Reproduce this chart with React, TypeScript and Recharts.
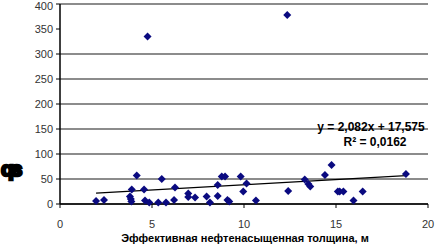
import React from "react";
import { ScatterChart, Scatter, XAxis, YAxis, CartesianGrid, ReferenceLine } from "recharts";

const thicknessM = [
  1.96, 2.39, 3.8, 3.85, 3.88, 3.9, 4.17, 4.57, 4.62, 4.85, 4.76, 5.34, 5.53, 5.76,
  6.2, 6.25, 6.97, 6.97, 7.34, 7.97, 8.15, 8.57, 8.57, 8.79, 8.97, 9.1, 9.2, 9.82,
  9.96, 10.14, 10.65, 12.35, 12.4, 13.3, 13.5, 13.6, 14.4, 14.76, 15.1, 15.2, 15.4,
  15.95, 16.45, 18.8,
];
const valuesY = [
  6, 8, 15, 10, 5, 29, 57, 29, 7, 3, 335, 3, 50, 3,
  8, 33, 21, 14, 13, 15, 3, 38, 16, 55, 55, 8, 5, 55,
  25, 41, 7, 378, 26, 49, 40, 35, 58, 78, 25, 25, 25,
  7, 25, 60,
];
const trendSlope = 2.082;
const trendIntercept = 17.575;
const trendRange = [1.96, 18.8];
const xTicks = [0, 5, 10, 15, 20];
const yTicks = [0, 50, 100, 150, 200, 250, 300, 350, 400];
const xTitle = "Эффективная нефтенасыщенная толщина, м";
const yTitle = "qs";
const eqText = "y = 2,082x + 17,575";
const r2Text = "R² = 0,0162";

const points = thicknessM.map((x, i) => ({ x, y: valuesY[i] }));

const Diamond = (props: any) => {
  const { cx, cy } = props;
  const r = 4;
  return (
    <polygon
      points={`${cx},${cy - r} ${cx + r},${cy} ${cx},${cy + r} ${cx - r},${cy}`}
      fill="#0a0a80"
    />
  );
};

const font = "'Liberation Sans', Arial, sans-serif";

export default function App() {
  return (
    <div style={{ position: "absolute", left: 0, top: 0, width: 442, height: 249, background: "#fff" }}>
      <ScatterChart width={442} height={249} margin={{ top: 4, right: 14, left: 0, bottom: 0 }}>
        <CartesianGrid vertical={false} stroke="#1a1a1a" strokeWidth={1.2} />
        <XAxis
          type="number"
          dataKey="x"
          domain={[0, 20]}
          ticks={xTicks}
          height={45}
          stroke="#000"
          tickSize={4}
          tick={{ fill: "#333", fontSize: 11, fontFamily: font, dy: 10 }}
          axisLine={{ stroke: "#000", strokeWidth: 1.5 }}
        />
        <YAxis
          type="number"
          dataKey="y"
          domain={[0, 400]}
          ticks={yTicks}
          width={60}
          stroke="#000"
          tickSize={4}
          tick={{ fill: "#333", fontSize: 11, fontFamily: font, dx: -1 }}
          axisLine={{ stroke: "#000", strokeWidth: 1.5 }}
        />
        <ReferenceLine
          segment={[
            { x: trendRange[0], y: trendSlope * trendRange[0] + trendIntercept },
            { x: trendRange[1], y: trendSlope * trendRange[1] + trendIntercept },
          ]}
          stroke="#000"
          strokeWidth={1.2}
          ifOverflow="visible"
        />
        <Scatter data={points} shape={<Diamond />} isAnimationActive={false} />
      </ScatterChart>
      <div
        style={{
          position: "absolute", left: 1, top: 157, fontFamily: font, fontWeight: 900,
          fontSize: 21, color: "#000", WebkitTextStroke: "2.5px #000", letterSpacing: -3,
        }}
      >
        {yTitle}
      </div>
      <div
        style={{
          position: "absolute", left: 296, top: 120, width: 150, textAlign: "center",
          fontFamily: font, fontWeight: "bold", fontSize: 12, color: "#000", lineHeight: "15px",
        }}
      >
        <div>{eqText}</div>
        <div style={{ marginLeft: 8 }}>{r2Text}</div>
      </div>
      <div
        style={{
          position: "absolute", left: 60, top: 232, width: 370, textAlign: "center",
          fontFamily: font, fontWeight: "bold", fontSize: 11, color: "#000",
        }}
      >
        {xTitle}
      </div>
    </div>
  );
}
